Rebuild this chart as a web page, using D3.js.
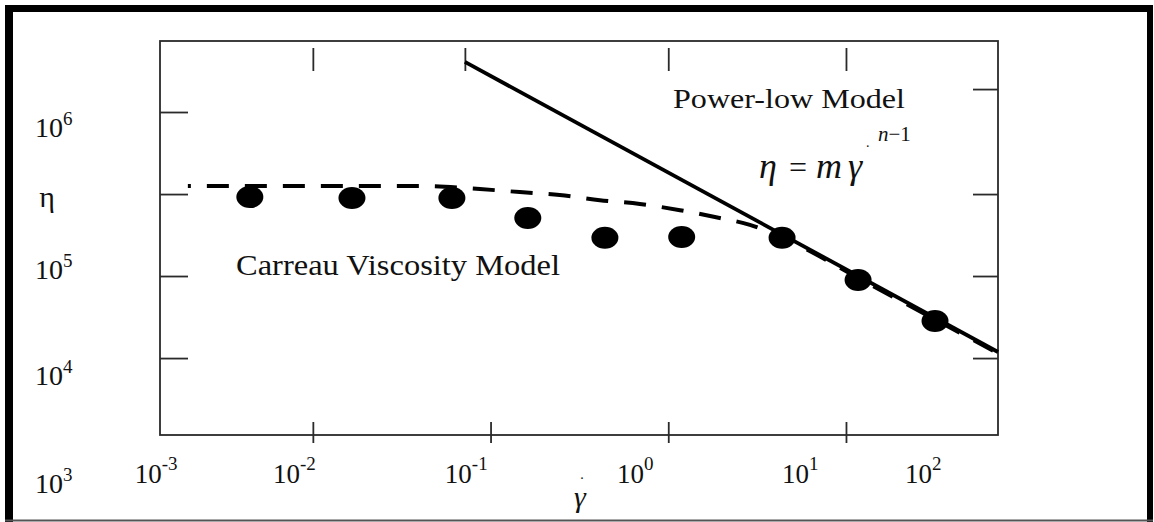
<!DOCTYPE html>
<html><head><meta charset="utf-8">
<script src="https://cdn.jsdelivr.net/npm/d3@7"></script>
<style>body{margin:0;background:#fff} svg{display:block}</style>
</head><body>
<svg id="c" width="1154" height="522"></svg>
<script>
// ---- data ----
const xDomain = [0.00138, 71.7];          // shear rate at the frame edges
const yDomain = [10730, 2.71e6];          // viscosity at the frame edges
const shearRate = [0.00442, 0.0166, 0.0606, 0.162, 0.440, 1.19, 4.37, 11.7, 31.7];
const viscosity = [303000, 299000, 299000, 226000, 171000, 173000, 171000, 94600, 53200];
const carreauRate = [0.00198, 0.00845, 0.0400, 0.0871, 0.146, 0.245, 0.412, 0.692, 1.164, 1.83, 2.88, 4.25, 13.6, 71.6];
const carreauEta  = [354000, 354000, 354000, 339000, 325000, 312000, 290000, 275000, 252000, 229000, 205000, 174000, 89000, 33800];
const powerRate = [0.0717, 71.7];
const powerEta  = [2.02e6, 34400];
const xTicksBottom = [0.01, 0.1, 1, 10];
const xTicksTop = [0.01, 0.0717, 1, 10];
const yTicksLeft = [1e6, 316000, 1e5, 31600];
const yTicksRight = [1.38e6, 316000, 1e5, 31600];
const xTickExp = ["-3", "-2", "-1", "0", "1", "2"];
const xLabelAnchor = [0.000995, 0.00596, 0.0553, 0.514, 4.37, 21.5];
const yTickExp = ["6", "5", "4", "3"];
const yLabelAnchor = [705000, 95900, 21600, 4750];

// ---- layout ----
const L = 160, R = 998, T = 41, B = 435;
const svg = d3.select("#c");
const ink = "#111";
const serif = "'Liberation Serif','Times New Roman',serif";

const x = d3.scaleLog().domain(xDomain).range([L, R]);
const y = d3.scaleLog().domain(yDomain).range([B, T]);

// outer frame
svg.append("line").attr("x1", 5).attr("x2", 1153).attr("y1", 8.5).attr("y2", 8.5).attr("stroke", "#000").attr("stroke-width", 7);
svg.append("line").attr("x1", 9).attr("x2", 9).attr("y1", 5).attr("y2", 522).attr("stroke", "#000").attr("stroke-width", 8);
svg.append("line").attr("x1", 1150).attr("x2", 1150).attr("y1", 5).attr("y2", 522).attr("stroke", "#000").attr("stroke-width", 6);
svg.append("line").attr("x1", 5).attr("x2", 1153).attr("y1", 520.5).attr("y2", 520.5).attr("stroke", "#555").attr("stroke-width", 2);

// plot box
svg.append("rect").attr("x", L).attr("y", T).attr("width", R - L).attr("height", B - T)
  .attr("fill", "none").attr("stroke", "#2a2a2a").attr("stroke-width", 1.8);

function styleAxis(g) {
  g.select(".domain").remove();
  g.selectAll(".tick text").remove();
  g.selectAll(".tick line").attr("stroke", "#2a2a2a").attr("stroke-width", 1.8);
}
// bottom ticks (crossing the axis)
svg.append("g").attr("transform", `translate(0,${B})`)
  .call(d3.axisBottom(x).tickValues(xTicksBottom).tickSize(8)).call(styleAxis)
  .selectAll(".tick line").attr("y1", -13).attr("y2", 8);
// top ticks (detached from the top edge)
svg.append("g").attr("transform", `translate(0,${T + 7})`)
  .call(d3.axisBottom(x).tickValues(xTicksTop).tickSize(23)).call(styleAxis);
// left / right ticks
svg.append("g").attr("transform", `translate(${L},0)`)
  .call(d3.axisRight(y).tickValues(yTicksLeft).tickSize(28)).call(styleAxis);
svg.append("g").attr("transform", `translate(${R},0)`)
  .call(d3.axisLeft(y).tickValues(yTicksRight).tickSize(25)).call(styleAxis);

// Carreau dashed curve
const line = d3.line().x(d => x(d[0])).y(d => y(d[1])).curve(d3.curveMonotoneX);
svg.append("path").datum(d3.zip(carreauRate, carreauEta)).attr("d", line)
  .attr("fill", "none").attr("stroke", "#000").attr("stroke-width", 4)
  .attr("stroke-dasharray", "22,16").attr("stroke-dashoffset", 19);

// power-law line
svg.append("path").datum(d3.zip(powerRate, powerEta)).attr("d", d3.line().x(d => x(d[0])).y(d => y(d[1])))
  .attr("fill", "none").attr("stroke", "#000").attr("stroke-width", 3.8);

// data points
svg.append("g").selectAll("ellipse").data(d3.zip(shearRate, viscosity)).join("ellipse")
  .attr("cx", d => x(d[0])).attr("cy", d => y(d[1])).attr("rx", 13.5).attr("ry", 11)
  .attr("fill", "#000");

// tick labels
function powLabel(px, py, exp, size, supSize, supDy) {
  const t = svg.append("text").attr("x", px).attr("y", py)
    .attr("font-family", serif).attr("font-size", size).attr("fill", ink);
  t.append("tspan").text("10");
  t.append("tspan").attr("dy", supDy).attr("font-size", supSize).text(exp);
}
xTickExp.forEach((e, i) => powLabel(x(xLabelAnchor[i]), B + 48, e, 27, 19, -13));
yTickExp.forEach((e, i) => powLabel(35, y(yLabelAnchor[i]), e, 28, 19, -12));

// axis titles
svg.append("text").attr("x", 47).attr("y", 207).attr("text-anchor", "middle")
  .attr("font-family", serif).attr("font-size", 30).attr("fill", ink).text("η");
svg.append("text").attr("x", 580).attr("y", 507).attr("text-anchor", "middle")
  .attr("font-family", serif).attr("font-style", "italic").attr("font-size", 30).attr("fill", ink).text("γ");
svg.append("text").attr("x", 582).attr("y", 479).attr("text-anchor", "middle")
  .attr("font-family", serif).attr("font-size", 14).attr("fill", ink).text(".");

// annotations
svg.append("text").attr("x", 673).attr("y", 108).attr("font-family", serif).attr("font-size", 28)
  .attr("fill", ink).attr("textLength", 232).attr("lengthAdjust", "spacingAndGlyphs").text("Power-low Model");
svg.append("text").attr("x", 236).attr("y", 275).attr("font-family", serif).attr("font-size", 29)
  .attr("fill", ink).attr("textLength", 324).attr("lengthAdjust", "spacingAndGlyphs").text("Carreau Viscosity Model");

const eq = svg.append("text").attr("y", 178).attr("font-family", serif).attr("font-size", 36).attr("fill", ink);
eq.append("tspan").attr("x", 759).attr("font-style", "italic").text("η");
eq.append("tspan").attr("x", 789).attr("font-size", 32).text("=");
eq.append("tspan").attr("x", 816).attr("font-style", "italic").text("m");
eq.append("tspan").attr("x", 848).attr("font-style", "italic").text("γ");
svg.append("text").attr("x", 866).attr("y", 147).attr("font-family", serif).attr("font-size", 14).attr("fill", ink).text(".");
const sup = svg.append("text").attr("x", 878).attr("y", 141).attr("font-family", serif).attr("font-size", 21).attr("fill", ink);
sup.append("tspan").attr("font-style", "italic").text("n");
sup.append("tspan").text("−1");
</script>
</body></html>
